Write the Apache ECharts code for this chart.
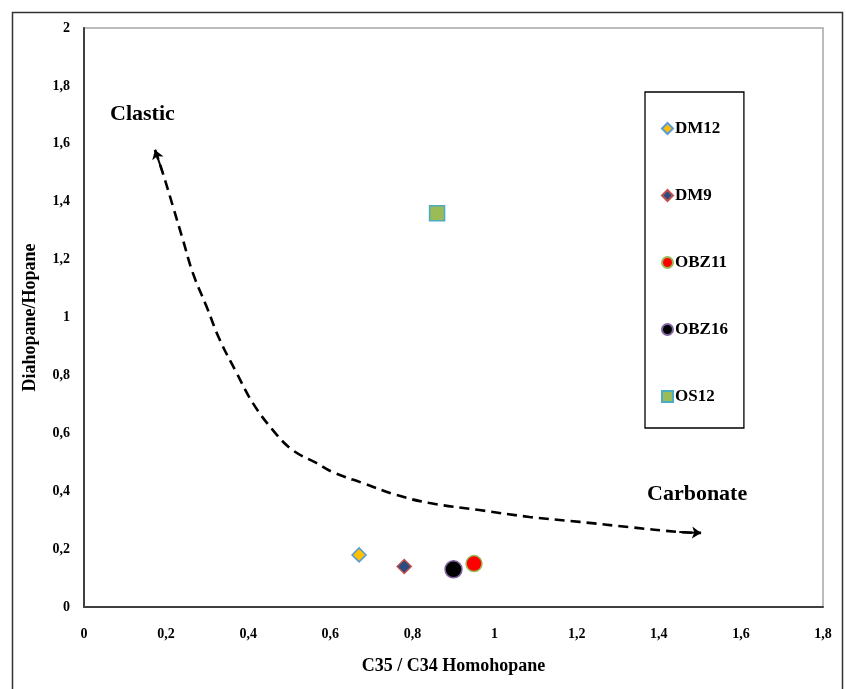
<!DOCTYPE html>
<html><head><meta charset="utf-8">
<script src="https://cdn.jsdelivr.net/npm/echarts@6/dist/echarts.min.js"></script>
<style>html,body{margin:0;padding:0;background:#fff}#c{width:846px;height:689px}</style>
</head><body><div id="c"></div>
<script>
var sampleNames = ['DM12', 'DM9', 'OBZ11', 'OBZ16', 'OS12'];
var c35c34 = [0.67, 0.78, 0.95, 0.90, 0.86];
var diaHop = [0.18, 0.14, 0.15, 0.13, 1.36];
var trendX = [0.173, 0.192, 0.217, 0.241, 0.265, 0.299, 0.331, 0.372, 0.411, 0.460, 0.508, 0.567, 0.606, 0.679, 0.761, 0.842, 0.963, 1.085, 1.207, 1.328, 1.450, 1.503];
var trendY = [1.579, 1.499, 1.382, 1.268, 1.154, 1.036, 0.922, 0.808, 0.705, 0.611, 0.542, 0.497, 0.466, 0.428, 0.387, 0.359, 0.335, 0.311, 0.294, 0.276, 0.259, 0.256];
var xTicks = [0, 0.2, 0.4, 0.6, 0.8, 1, 1.2, 1.4, 1.6, 1.8];
var yTicks = [0, 0.2, 0.4, 0.6, 0.8, 1, 1.2, 1.4, 1.6, 1.8, 2];

var styles = {
  DM12: {symbol: 'diamond', size: 14, fill: '#FFC000', border: '#5B9BD5'},
  DM9: {symbol: 'diamond', size: 14, fill: '#2B4C7E', border: '#C0504D'},
  OBZ11: {symbol: 'circle', size: 16, fill: '#FF0000', border: '#9BBB59'},
  OBZ16: {symbol: 'circle', size: 17, fill: '#000000', border: '#8064A2'},
  OS12: {symbol: 'rect', size: 15, fill: '#9BBB59', border: '#4BACC6'}
};
var serif = '"Liberation Serif", "DejaVu Serif", serif';
var fmt = function (v) { return String(v).replace('.', ','); };

var series = sampleNames.map(function (n, i) {
  var s = styles[n];
  return {
    name: n, type: 'scatter', symbol: s.symbol, symbolSize: s.size, z: 5,
    itemStyle: {color: s.fill, borderColor: s.border, borderWidth: 1.5, opacity: 1},
    data: [[c35c34[i], diaHop[i]]]
  };
});
var curve = trendX.map(function (x, i) { return [x, trendY[i]]; });
series.push({
  name: 'trend', type: 'line', smooth: 0.4, showSymbol: false, symbol: 'none',
  lineStyle: {color: '#000', width: 2.6, type: [10, 6]}, data: curve, silent: true
});
var n = curve.length;
series.push({
  name: 'arrows', type: 'lines', coordinateSystem: 'cartesian2d', silent: true,
  symbol: ['none', 'arrow'], symbolSize: 9,
  lineStyle: {color: '#000', width: 2, opacity: 1},
  data: [
    {coords: [curve[1], curve[0]]},
    {coords: [curve[n - 2], curve[n - 1]]}
  ]
});

var chart = echarts.init(document.getElementById('c'));
chart.setOption({
  animation: false,
  backgroundColor: '#fff',
  grid: {left: 84, right: 23, top: 28, bottom: 82, show: true, borderColor: '#a6a6a6', borderWidth: 1.5},
  xAxis: {
    type: 'value', min: 0, max: 1.8, interval: 0.2,
    name: 'C35 / C34 Homohopane', nameLocation: 'middle', nameGap: 50,
    nameTextStyle: {fontFamily: serif, fontWeight: 'bold', fontSize: 18, color: '#000'},
    axisLine: {lineStyle: {color: '#404040', width: 2}},
    axisTick: {show: false}, splitLine: {show: false},
    axisLabel: {fontFamily: serif, fontWeight: 'bold', fontSize: 14, color: '#000', margin: 20, formatter: fmt}
  },
  yAxis: {
    type: 'value', min: 0, max: 2, interval: 0.2,
    name: 'Diahopane/Hopane', nameLocation: 'middle', nameGap: 45,
    nameTextStyle: {fontFamily: serif, fontWeight: 'bold', fontSize: 18, color: '#000'},
    axisLine: {lineStyle: {color: '#404040', width: 2}},
    axisTick: {show: false}, splitLine: {show: false},
    axisLabel: {fontFamily: serif, fontWeight: 'bold', fontSize: 14, color: '#000', margin: 14, formatter: fmt}
  },
  legend: {
    data: sampleNames, orient: 'vertical', left: 645, top: 92,
    padding: [28, 16, 23, 16], itemGap: 50, itemWidth: 11, itemHeight: 11,
    borderColor: '#000', borderWidth: 1.3, backgroundColor: '#fff',
    textStyle: {fontFamily: serif, fontWeight: 'bold', fontSize: 17, color: '#000', padding: [0, 0, 0, -3]}
  },
  graphic: [
    {type: 'rect', left: 10, top: 10, shape: {width: 830, height: 700}, style: {fill: 'none', stroke: '#333', lineWidth: 1.5}, silent: true},
    {type: 'text', left: 110, top: 103, style: {text: 'Clastic', font: 'bold 22px ' + serif, fill: '#000'}},
    {type: 'text', left: 647, top: 483, style: {text: 'Carbonate', font: 'bold 22px ' + serif, fill: '#000'}}
  ],
  series: series
});
</script></body></html>
